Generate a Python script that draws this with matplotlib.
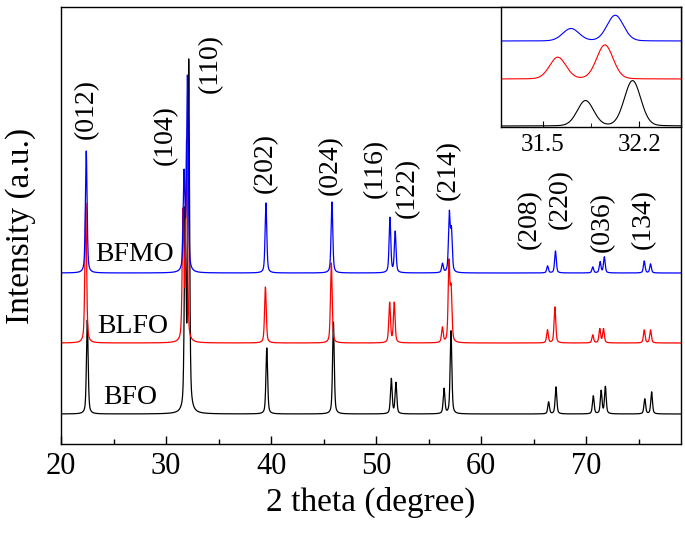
import numpy as np
import matplotlib.pyplot as plt
from matplotlib.ticker import MultipleLocator, FixedLocator

plt.rcParams['font.family'] = ['Liberation Serif', 'DejaVu Serif']

# peak positions (2 theta, degree) and heights
bfo_pos = [22.5, 31.81, 32.15, 39.58, 45.92, 51.43, 51.87, 56.45, 57.11,
           66.4, 67.1, 70.65, 71.4, 71.8, 75.55, 76.2]
bfo_h = [94, 195, 348, 66, 92, 35, 31, 25, 83, 12, 27, 18, 23, 27, 15, 22]

blfo_pos = [22.35, 31.61, 31.95, 39.45, 45.72, 51.27, 51.71, 56.29, 56.92, 57.12,
            66.29, 67.0, 70.6, 71.27, 71.62, 75.5, 76.1]
blfo_h = [140, 128, 200, 56, 80, 40, 40, 15, 78, 50, 13, 36, 8, 14, 14, 13, 13]

bfmo_pos = [22.4, 31.705, 32.025, 39.5, 45.78, 51.3, 51.8, 56.3, 56.95, 57.15,
            66.3, 67.05, 70.6, 71.3, 71.7, 75.5, 76.1]
bfmo_h = [122, 96, 194, 70, 71, 55, 41, 9, 58, 40, 7, 22, 6, 11, 16, 12, 9]

baselines = [30, 101, 171]  # BFO, BLFO, BFMO offsets
names = ['BFO', 'BLFO', 'BFMO']
colors = ['black', 'red', 'blue']

# inset (zoom of the (104)/(110) doublet)
inset_h = {'BFO': [25.3, 45.3], 'BLFO': [21.7, 34.0], 'BFMO': [12.4, 25.7]}
inset_base = {'BFO': 1, 'BLFO': 48, 'BFMO': 86}

hkl = ['(012)', '(104)', '(110)', '(202)', '(024)', '(116)', '(122)', '(214)',
       '(208)', '(220)', '(036)', '(134)']
hkl_x = [22.38, 29.9, 34.19, 39.43, 45.62, 49.9, 53.0, 56.86, 64.57, 67.52, 71.52, 75.43]
hkl_y = [335, 309, 381, 281, 279, 276, 256, 274, 225, 245, 222, 225]


def pattern(x, pos, hgt, fwhm, eta=0.4):
    y = np.zeros_like(x)
    for p, h in zip(pos, hgt):
        d = (x - p) / (fwhm / 2)
        y += h * (eta / (1 + d ** 2) + (1 - eta) * np.exp(-np.log(2) * d ** 2))
    return y


x = np.arange(20, 79.001, 0.005)
peaks = {'BFO': (bfo_pos, bfo_h), 'BLFO': (blfo_pos, blfo_h), 'BFMO': (bfmo_pos, bfmo_h)}

fig = plt.figure(figsize=(6.85, 5.35), dpi=100)
ax = fig.add_axes([0.0891, 0.1701, 0.9051, 0.8168])

for name, base, c in zip(names, baselines, colors):
    pos, h = peaks[name]
    ax.plot(x, base + pattern(x, pos, h, 0.19, eta=0.5), color=c, lw=0.9)

ax.set_xlim(20, 79)
ax.set_ylim(0, 437)
ax.set_yticks([])
ax.xaxis.set_major_locator(MultipleLocator(10))
ax.xaxis.set_minor_locator(MultipleLocator(5))
ax.tick_params(axis='x', which='both', direction='in', top=False, labelsize=22, pad=6)
ax.tick_params(axis='x', which='major', length=6, width=1)
ax.tick_params(axis='x', which='minor', length=3.5, width=1)
for s in ax.spines.values():
    s.set_linewidth(1)
ax.set_xlabel('2 theta (degree)', fontsize=24, labelpad=4)
ax.set_ylabel('Intensity (a.u.)', fontsize=24, labelpad=18)

for t, tx, ty in zip(hkl, hkl_x, hkl_y):
    ax.text(tx, ty, t, rotation=90, ha='center', va='center', fontsize=20)
ax.text(26.95, 190, 'BFMO', ha='center', va='center', fontsize=20)
ax.text(26.86, 117, 'BLFO', ha='center', va='center', fontsize=20)
ax.text(26.62, 46, 'BFO', ha='center', va='center', fontsize=20)

# inset
axi = fig.add_axes([0.7314, 0.7626, 0.2628, 0.2243])
xi = np.arange(31.2, 32.5, 0.002)
for name, c in zip(names, colors):
    pos = peaks[name][0][1:3]
    axi.plot(xi, inset_base[name] + pattern(xi, pos, inset_h[name], 0.14, eta=0.1),
             color=c, lw=0.8)
axi.set_xlim(31.2, 32.5)
axi.set_ylim(0, 120)
axi.set_yticks([])
axi.xaxis.set_major_locator(FixedLocator([31.5, 32.2]))
axi.xaxis.set_minor_locator(FixedLocator([31.85]))
axi.tick_params(axis='x', which='both', direction='in', labelsize=18, pad=5)
axi.tick_params(axis='x', which='major', length=4)
axi.tick_params(axis='x', which='minor', length=3)
for s in axi.spines.values():
    s.set_linewidth(1)

fig.savefig('out.png', dpi=100)
